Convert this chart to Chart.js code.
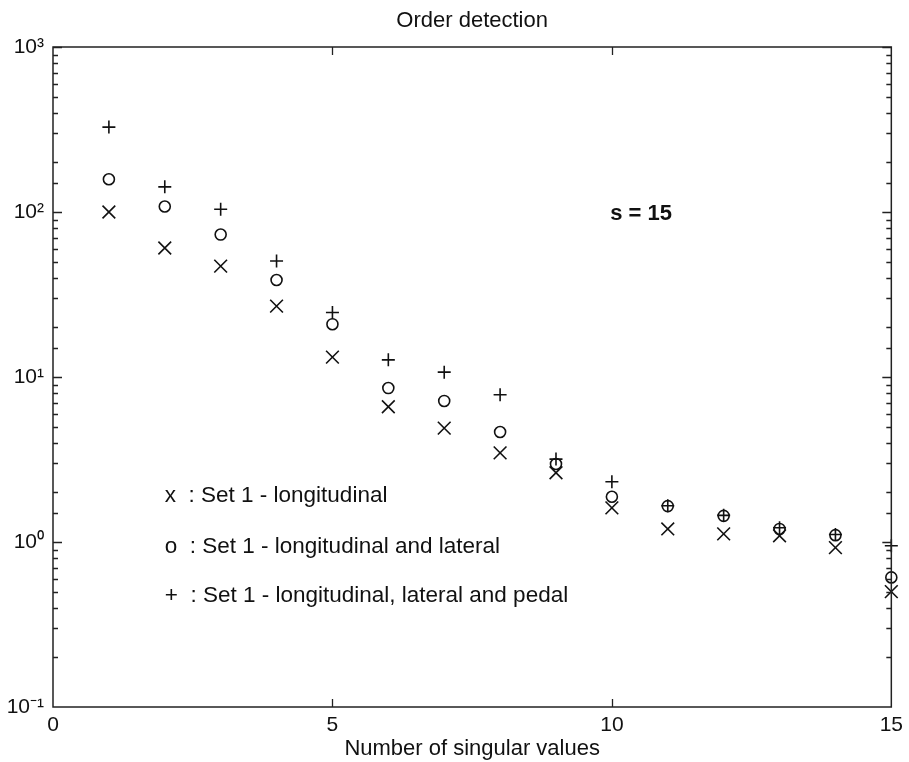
<!DOCTYPE html>
<html>
<head>
<meta charset="utf-8">
<script src="https://cdn.jsdelivr.net/npm/chart.js@4.4.1/dist/chart.umd.min.js"></script>
<style>
  html, body { margin: 0; padding: 0; background: #ffffff; }
  #wrap { width: 909px; height: 762px; position: relative; }
</style>
</head>
<body>
<div id="wrap"><canvas id="c" width="909" height="762"></canvas></div>
<script>
// ---- Data ----
const singularValueIndex = [1, 2, 3, 4, 5, 6, 7, 8, 9, 10, 11, 12, 13, 14, 15];
const set1Longitudinal = [100, 60.5, 47, 26.9, 13.2, 6.6, 4.9, 3.47, 2.63, 1.61, 1.20, 1.12, 1.09, 0.925, 0.50];
const set1LongLateral = [158, 108, 73, 38.7, 20.9, 8.57, 7.16, 4.64, 2.97, 1.88, 1.65, 1.44, 1.20, 1.10, 0.61];
const set1LongLatPedal = [327, 142, 104, 50.5, 24.6, 12.7, 10.7, 7.8, 3.18, 2.32, 1.66, 1.45, 1.22, 1.11, 0.95];
const xTickValues = [0, 5, 10, 15];
const yDecadeLabels = { '-1': '10⁻¹', '0': '10⁰', '1': '10¹', '2': '10²', '3': '10³' };
const legendLines = [
  'x  : Set 1 - longitudinal',
  'o  : Set 1 - longitudinal and lateral',
  '+  : Set 1 - longitudinal, lateral and pedal'
];
const annotationText = 's = 15';
const chartTitle = 'Order detection';
const xAxisTitle = 'Number of singular values';

const FONT = '"Liberation Sans", Arial, Helvetica, sans-serif';

function toPoints(vals) {
  return singularValueIndex.map((x, i) => ({ x: x, y: vals[i] }));
}
function decadeOf(v) {
  const l = Math.log10(v);
  const r = Math.round(l);
  return Math.abs(l - r) < 1e-9 ? r : null;
}

const framePlugin = {
  id: 'frame',
  afterDatasetsDraw(chart) {
    const ctx = chart.ctx;
    const ca = chart.chartArea;
    const xs = chart.scales.x;
    const ys = chart.scales.y;
    ctx.save();
    ctx.strokeStyle = '#222';
    ctx.lineWidth = 1.3;
    ctx.beginPath();
    // y ticks, inward, left and right
    ys.ticks.forEach(t => {
      const py = Math.round(ys.getPixelForValue(t.value)) + 0.5;
      if (py < ca.top + 0.5 || py > ca.bottom - 0.5) return;
      const len = decadeOf(t.value) !== null ? 9 : 5;
      ctx.moveTo(ca.left, py); ctx.lineTo(ca.left + len, py);
      ctx.moveTo(ca.right, py); ctx.lineTo(ca.right - len, py);
    });
    // x ticks, inward, top and bottom
    xs.ticks.forEach(t => {
      const px = Math.round(xs.getPixelForValue(t.value)) + 0.5;
      if (px <= ca.left + 1 || px >= ca.right - 1) return;
      ctx.moveTo(px, ca.bottom); ctx.lineTo(px, ca.bottom - 8);
      ctx.moveTo(px, ca.top); ctx.lineTo(px, ca.top + 8);
    });
    ctx.stroke();
    ctx.lineWidth = 1.5;
    ctx.strokeRect(ca.left, ca.top, ca.right - ca.left, ca.bottom - ca.top);

    ctx.fillStyle = '#111';
    ctx.textBaseline = 'middle';
    // title centred over the axes
    ctx.textAlign = 'center';
    ctx.font = '22px ' + FONT;
    ctx.fillText(chartTitle, (ca.left + ca.right) / 2, ca.top - 26);

    // annotation text and in-plot legend
    ctx.textAlign = 'left';
    ctx.font = 'bold 22px ' + FONT;
    ctx.fillText(annotationText, xs.getPixelForValue(9.97), ys.getPixelForValue(97));
    ctx.font = '22.5px ' + FONT;
    const lx = xs.getPixelForValue(2.0);
    const legendY = [1.90, 0.93, 0.47];
    legendLines.forEach((s, i) => {
      ctx.fillText(s, lx, ys.getPixelForValue(legendY[i]));
    });
    ctx.restore();
  }
};

const ctx = document.getElementById('c').getContext('2d');
new Chart(ctx, {
  type: 'scatter',
  data: {
    datasets: [
      {
        label: 'x : Set 1 - longitudinal',
        data: toPoints(set1Longitudinal),
        pointStyle: 'crossRot',
        pointRadius: 9,
        borderColor: '#111',
        backgroundColor: '#111',
        pointBorderWidth: 1.6,
        showLine: false
      },
      {
        label: 'o : Set 1 - longitudinal and lateral',
        data: toPoints(set1LongLateral),
        pointStyle: 'circle',
        pointRadius: 5.5,
        borderColor: '#111',
        backgroundColor: 'rgba(0,0,0,0)',
        pointBorderWidth: 1.6,
        showLine: false
      },
      {
        label: '+ : Set 1 - longitudinal, lateral and pedal',
        data: toPoints(set1LongLatPedal),
        pointStyle: 'cross',
        pointRadius: 6.5,
        borderColor: '#111',
        backgroundColor: '#111',
        pointBorderWidth: 1.6,
        showLine: false
      }
    ]
  },
  options: {
    responsive: false,
    animation: false,
    devicePixelRatio: 1,
    clip: false,
    layout: { padding: { left: 0, right: 16, top: 47, bottom: 0 } },
    plugins: {
      legend: { display: false },
      tooltip: { enabled: false },
      title: { display: false }
    },
    scales: {
      x: {
        type: 'linear',
        min: 0,
        max: 15,
        grid: { display: false, drawTicks: false },
        border: { display: false },
        afterBuildTicks(scale) {
          scale.ticks = xTickValues.map(v => ({ value: v }));
        },
        afterFit(scale) { scale.height = 55; },
        ticks: {
          color: '#111',
          font: { family: FONT, size: 21 },
          padding: 6,
          maxRotation: 0,
          autoSkip: false
        },
        title: {
          display: true,
          text: xAxisTitle,
          color: '#111',
          font: { family: FONT, size: 22 },
          padding: { top: 0, bottom: 0 }
        }
      },
      y: {
        type: 'logarithmic',
        min: 0.1,
        max: 1000,
        grid: { display: false, drawTicks: false },
        border: { display: false },
        afterFit(scale) { scale.width = 53; },
        ticks: {
          color: '#111',
          font: { family: FONT, size: 21 },
          padding: 9,
          autoSkip: false,
          callback(value) {
            const d = decadeOf(value);
            return d === null ? '' : yDecadeLabels[String(d)];
          }
        }
      }
    }
  },
  plugins: [framePlugin]
});
</script>
</body>
</html>
